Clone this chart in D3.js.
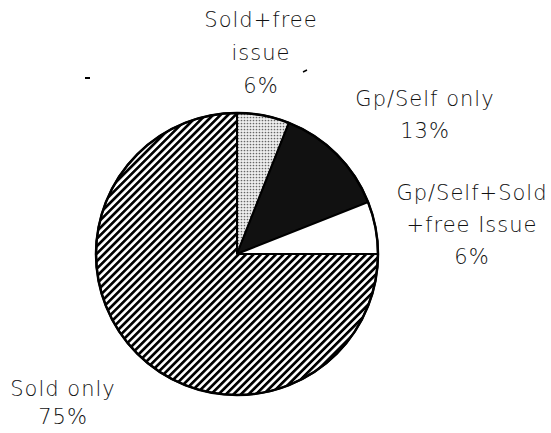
<!DOCTYPE html>
<html><head><meta charset="utf-8">
<script src="https://cdn.jsdelivr.net/npm/d3@7"></script>
<style>body{margin:0;background:#fff}svg{display:block}</style>
</head><body>
<script>
const categories = ["Sold+free issue", "Gp/Self only", "Gp/Self+Sold+free Issue", "Sold only"];
const values = [6, 13, 6, 75];
const labelLines = [["Sold+free", "issue", "6%"], ["Gp/Self only", "13%"], ["Gp/Self+Sold", "+free Issue", "6%"], ["Sold only", "75%"]];

const W = 551, H = 433;
const cx = 237, cy = 254, R = 141;
const labelPos = [[261, 27], [425, 106], [472, 200], [63, 396]];
const lineGaps = [33, 32, 32, 28];

const svg = d3.select("body").append("svg").attr("width", W).attr("height", H);
const defs = svg.append("defs");
const hatch = defs.append("pattern").attr("id", "hatch").attr("patternUnits", "userSpaceOnUse")
  .attr("width", 5.3).attr("height", 5.3).attr("patternTransform", "rotate(-45)");
hatch.append("rect").attr("width", 5.3).attr("height", 5.3).attr("fill", "#fff");
hatch.append("rect").attr("width", 5.3).attr("height", 2.7).attr("fill", "#000");
const dots = defs.append("pattern").attr("id", "dots").attr("patternUnits", "userSpaceOnUse")
  .attr("width", 3).attr("height", 3);
dots.append("rect").attr("width", 3).attr("height", 3).attr("fill", "#eee");
dots.append("circle").attr("cx", 1.5).attr("cy", 1.5).attr("r", 0.85).attr("fill", "#666");

const fills = ["url(#dots)", "#111", "#fff", "url(#hatch)"];

const pie = d3.pie().sort(null).value(d => d);
const arc = d3.arc().innerRadius(0).outerRadius(R);
const g = svg.append("g").attr("transform", `translate(${cx},${cy})`);
g.selectAll("path").data(pie(values)).join("path")
  .attr("d", arc).attr("fill", (d, i) => fills[i])
  .attr("stroke", "#000").attr("stroke-width", 2).attr("stroke-linejoin", "round");
g.append("circle").attr("r", R).attr("fill", "none").attr("stroke", "#000").attr("stroke-width", 2.5);

const font = "'DejaVu Sans', sans-serif";
labelLines.forEach((lines, i) => {
  const t = svg.append("text").attr("text-anchor", "middle")
    .attr("font-family", font).attr("font-size", 21).attr("font-weight", 300)
    .attr("letter-spacing", 1).attr("fill", "#111");
  lines.forEach((s, j) => {
    t.append("tspan").attr("x", labelPos[i][0]).attr("y", labelPos[i][1] + j * lineGaps[i]).text(s);
  });
});
// small stray marks
svg.append("line").attr("x1", 85).attr("x2", 90).attr("y1", 78).attr("y2", 78).attr("stroke", "#000").attr("stroke-width", 2);
svg.append("line").attr("x1", 303).attr("x2", 307).attr("y1", 72).attr("y2", 70).attr("stroke", "#000").attr("stroke-width", 1.5);
</script>
</body></html>
